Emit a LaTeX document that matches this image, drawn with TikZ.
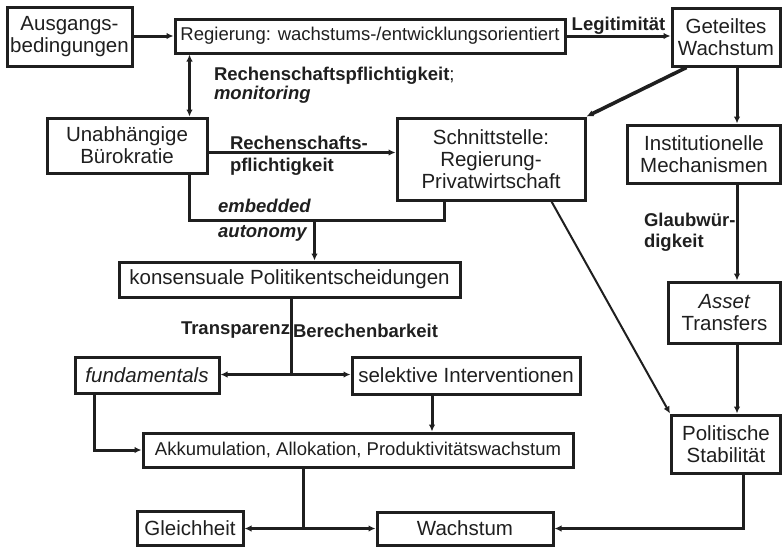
\documentclass[tikz,border=0pt]{standalone}
\usepackage{fontspec}
\setmainfont{Liberation Sans}
\usetikzlibrary{arrows.meta, positioning}
\colorlet{ink}{black!88}

\begin{document}
\begin{tikzpicture}[
    x=1pt, y=-1pt,
    box/.style={rectangle, draw=ink, line width=3pt, fill=white, align=center, inner sep=2pt, text=ink, font=\fontsize{20.5}{22}\selectfont},
    widebox/.style={box, font=\fontsize{18.5}{21}\selectfont},
    arrow/.style={-{Latex[length=7pt,width=6.5pt]}, line width=3pt, draw=ink},
    twoway/.style={{Latex[length=7pt,width=6.5pt]}-{Latex[length=7pt,width=6.5pt]}, line width=3pt, draw=ink},
    link/.style={line width=3pt, draw=ink},
    lbl/.style={font=\fontsize{18.5}{19}\selectfont\bfseries, text=ink, align=left, inner sep=0pt}
]
\useasboundingbox (0,0) rectangle (783,547);

% Nodes
\node[box, minimum width=125, minimum height=59] (ausg) at (69.5,36.5) {Ausgangs-\\bedingungen};
\node[widebox, minimum width=390, minimum height=34] (regier) at (370,36) {Regierung: wachstums-/entwicklungsorientiert};
\node[box, minimum width=108, minimum height=58] (geteilt) at (726,37) {Geteiltes\\Wachstum};
\node[box, minimum width=160, minimum height=55] (unab) at (127,145.5) {Unabhängige\\Bürokratie};
\node[box, minimum width=188, minimum height=82] (schnitt) at (491,159) {Schnittstelle:\\Regierung-\\Privatwirtschaft};
\node[box, minimum width=153, minimum height=58] (instit) at (704,154) {Institutionelle\\Mechanismen};
\node[box, minimum width=341, minimum height=35] (konsens) at (289.5,279.5) {konsensuale Politikentscheidungen};
\node[box, minimum width=112, minimum height=61] (asset) at (724.5,312.5) {\textit{Asset}\\Transfers};
\node[box, minimum width=144, minimum height=36] (fund) at (147,375) {\textit{fundamentals}};
\node[box, minimum width=228, minimum height=37] (selekt) at (466,375.5) {selektive Interventionen};
\node[widebox, minimum width=430, minimum height=34] (akku) at (358,450) {Akkumulation, Allokation, Produktivitätswachstum};
\node[box, minimum width=109, minimum height=58] (polit) at (726,444) {Politische\\Stabilität};
\node[box, minimum width=106, minimum height=34] (gleich) at (190,528) {Gleichheit};
\node[box, minimum width=176, minimum height=33] (wachs) at (465,528.5) {Wachstum};

% Arrows
\draw[arrow] (ausg.east |- regier.west) -- (regier.west);
\draw[arrow] (regier.east) -- node[above, inner sep=3pt, lbl]{Legitimität} (geteilt.west |- regier.east);
\draw[twoway] ([xshift=-19]unab.north east |- regier.south) -- node[right, xshift=23, lbl]{Rechenschaftspflichtigkeit\textmd{;}\\\textit{monitoring}} ([xshift=-19]unab.north east);
\draw[arrow] ([yshift=-7]unab.east) -- node[pos=0, anchor=west, xshift=20, yshift=-3, lbl]{Rechenschafts-\\[3pt]pflichtigkeit} ([yshift=-7]unab.east -| schnitt.west);
\draw[arrow, line width=3.6pt] ([xshift=16]geteilt.south west) -- (schnitt.north east);
\draw[arrow] ([xshift=11]geteilt.south) -- ([xshift=11]geteilt.south |- instit.north);
\draw[arrow] ([xshift=11]geteilt.south |- instit.south) -- node[left, inner sep=4pt, lbl]{Glaubwür-\\[2pt]digkeit} ([xshift=11]geteilt.south |- asset.north);
\draw[arrow] ([xshift=11]geteilt.south |- asset.south) -- ([xshift=11]geteilt.south |- polit.north);
\draw[arrow, line width=2pt] ([xshift=-35]schnitt.south east) -- (polit.north west);
\draw[arrow] ([xshift=17]polit.south) |- (wachs.east);
\draw[link] ([xshift=-19]unab.south east) -- ++(0,46) coordinate (emb) -| ([xshift=-47]schnitt.south);
\draw[arrow] ([xshift=25]konsens.north |- emb) -- node[pos=0, anchor=east, xshift=-2, lbl]{\textit{embedded}\\[6pt]\textit{autonomy}} ([xshift=25]konsens.north);
\draw[link] ([xshift=2]konsens.south) -- node[pos=0.42, left, inner sep=6pt, lbl]{Transparenz} node[pos=0.42, right, inner sep=5pt, lbl]{Berechenbarkeit} ++(0,76) coordinate (split);
\draw[arrow] (split) -- (split -| fund.east);
\draw[arrow] (split) -- (split -| selekt.west);
\draw[arrow] ([xshift=-34]selekt.south) -- ([xshift=-34]selekt.south |- akku.north);
\draw[arrow] ([xshift=21]fund.south west) |- (akku.west);
\draw[link] ([xshift=-55]akku.south) -- ++(0,60) coordinate (fork);
\draw[arrow] (fork) -- (fork -| gleich.east);
\draw[arrow] (fork) -- (fork -| wachs.west);

\end{tikzpicture}
\end{document}
